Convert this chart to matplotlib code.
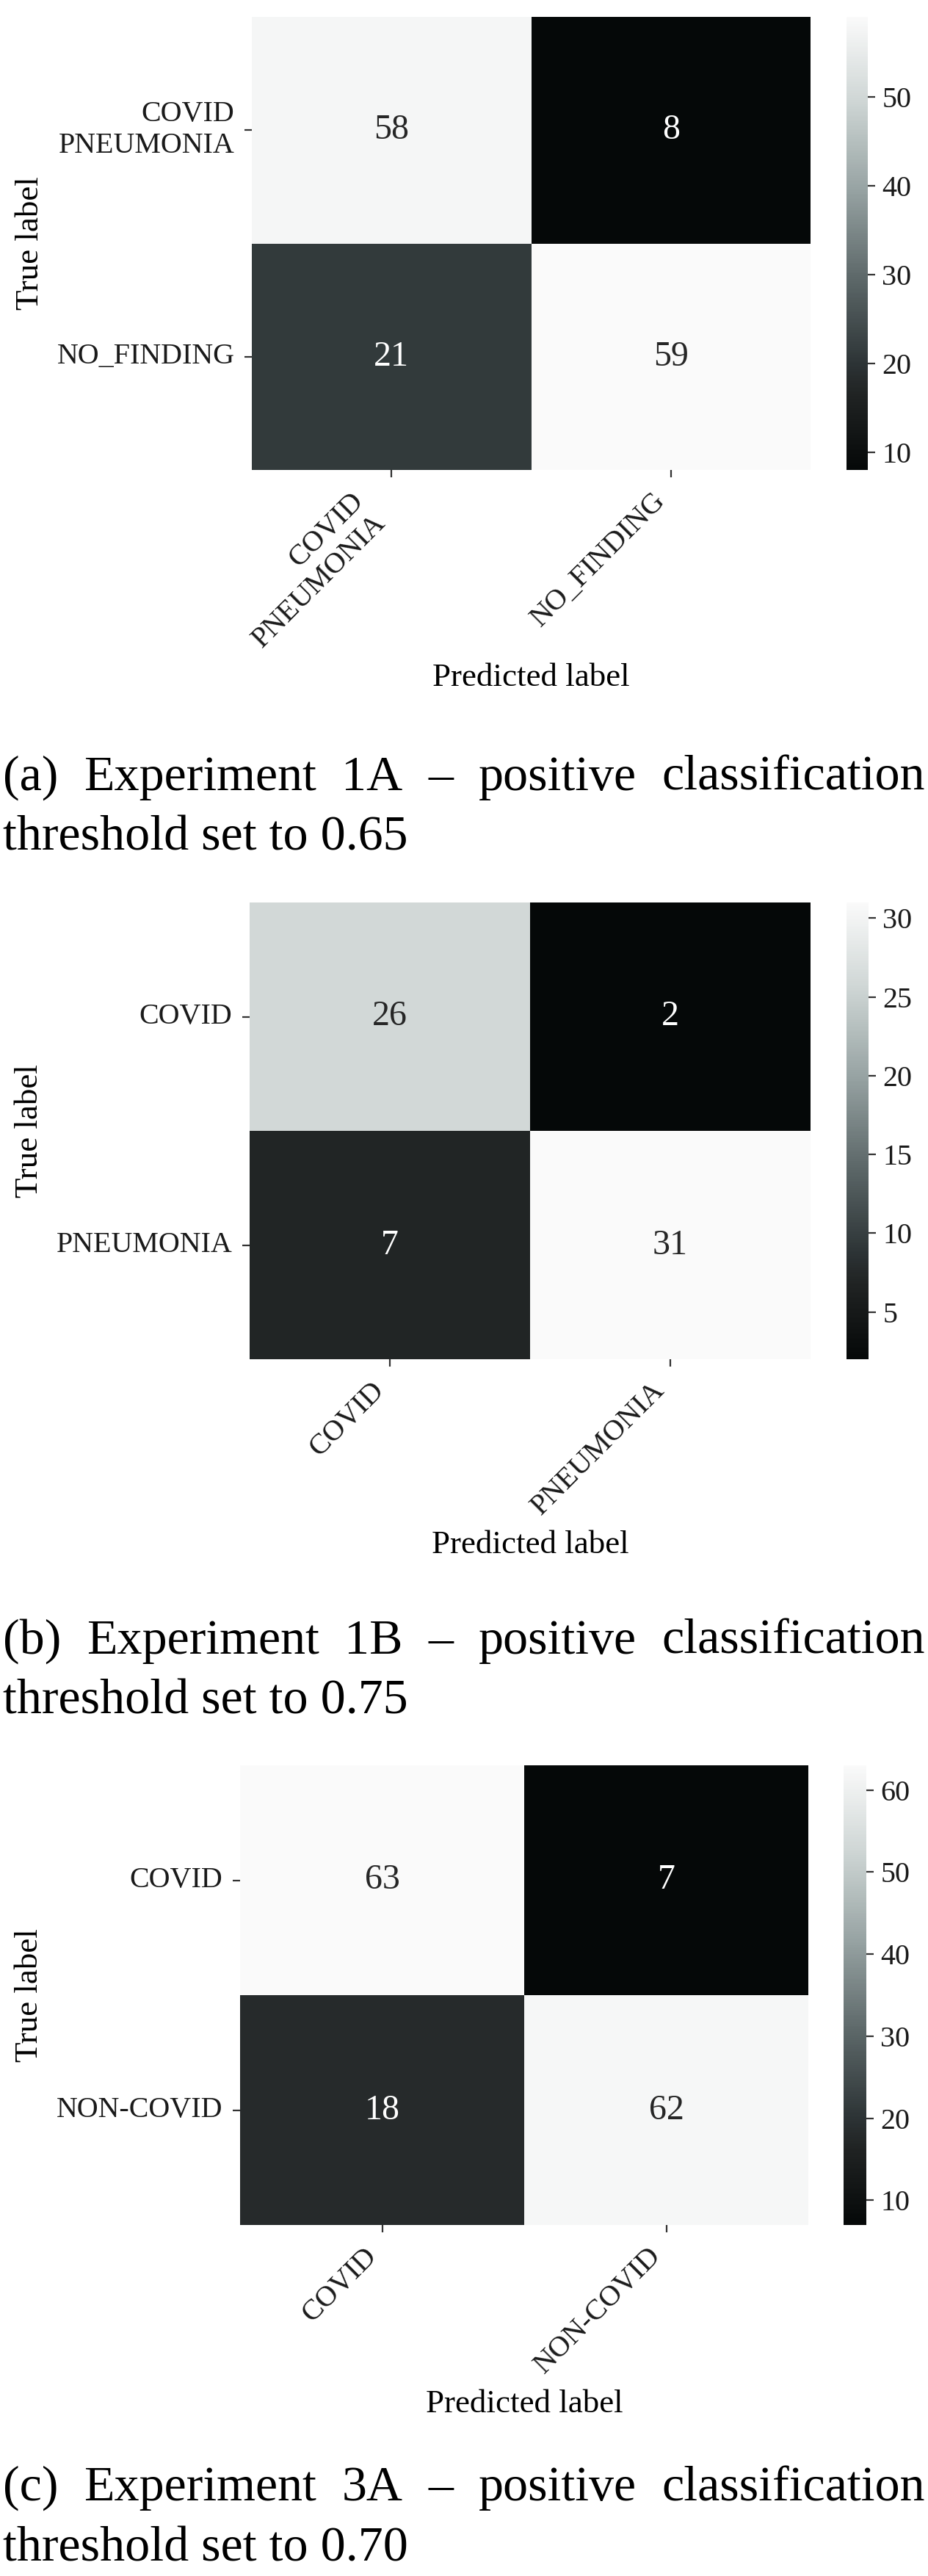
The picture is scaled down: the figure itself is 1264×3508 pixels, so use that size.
import numpy as np
import matplotlib
matplotlib.use("Agg")
import matplotlib.pyplot as plt
import seaborn as sns
from matplotlib.colors import LinearSegmentedColormap

# confusion matrices (rows = true, cols = predicted)
labels_a = ["COVID\nPNEUMONIA", "NO_FINDING"]
cm_a = [[58, 8], [21, 59]]
labels_b = ["COVID", "PNEUMONIA"]
cm_b = [[26, 2], [7, 31]]
labels_c = ["COVID", "NON-COVID"]
cm_c = [[63, 7], [18, 62]]

captions = [
    ["(a)", "Experiment", "1A", "\u2013", "positive", "classification"],
    ["(b)", "Experiment", "1B", "\u2013", "positive", "classification"],
    ["(c)", "Experiment", "3A", "\u2013", "positive", "classification"],
]
captions2 = ["threshold set to 0.65", "threshold set to 0.75", "threshold set to 0.70"]

W, H = 1264, 3508
plt.rcParams["font.family"] = ["Liberation Serif", "DejaVu Serif"]

# grey map with the slight slate tint of the original
cmap = LinearSegmentedColormap.from_list("slate", [
    (0.0, "#050808"), (0.17, "#212424"), (0.235, "#2d3436"),
    (0.43, "#5f6a6b"), (0.63, "#9aa6a6"), (0.82, "#d0d7d6"), (1.0, "#fafafa")])

fig = plt.figure(figsize=(W / 100, H / 100), dpi=100)


def box(l, t, r, b):
    return [l / W, 1 - b / H, (r - l) / W, (b - t) / H]


def panel(cm, labels, ax_px, cb_px):
    ax = fig.add_axes(box(*ax_px))
    cax = fig.add_axes(box(*cb_px))
    sns.heatmap(np.array(cm), ax=ax, cbar_ax=cax, cmap=cmap, annot=True, fmt="d",
                annot_kws={"size": 34.5}, xticklabels=labels, yticklabels=labels)
    ax.set_xticklabels(labels, rotation=45, ha="right", fontsize=28.8, color="#1a1a1a")
    ax.set_yticklabels(labels, rotation=0, fontsize=28.8, color="#1a1a1a", ha="right",
                       va="center")
    ax.tick_params(length=7, width=1.6, pad=10, color="#333333")
    ax.set_xlabel("Predicted label", fontsize=32.4, labelpad=10)
    ax.set_ylabel("True label", fontsize=32.4, labelpad=12)
    cax.tick_params(labelsize=28.8, length=7, width=1.6, pad=7, color="#333333")
    cax.yaxis.set_tick_params(labelcolor="#1a1a1a")
    for s in cax.spines.values():
        s.set_visible(False)
    return ax


panel(cm_a, labels_a, (343, 23, 1104, 640), (1153, 23, 1182, 640))
panel(cm_b, labels_b, (340, 1229, 1104, 1851), (1153, 1229, 1183, 1851))
panel(cm_c, labels_c, (327, 2404, 1101, 3030), (1149, 2404, 1180, 3030))

# justified captions
renderer = fig.canvas.get_renderer()
cap_size = 49
left, right = 4, 1260
baselines = [(1076, 1157), (2252, 2333), (3405, 3487)]
for words, line2, (y1, y2) in zip(captions, captions2, baselines):
    texts = [fig.text(0, 1 - y1 / H, w, fontsize=cap_size, va="baseline", ha="left")
             for w in words]
    widths = [t.get_window_extent(renderer).width for t in texts]
    gap = (right - left - sum(widths)) / (len(words) - 1)
    x = left
    for t, wd in zip(texts, widths):
        t.set_x(x / W)
        x += wd + gap
    fig.text(left / W, 1 - y2 / H, line2, fontsize=cap_size, va="baseline", ha="left")

fig.savefig("out.png", dpi=100)
